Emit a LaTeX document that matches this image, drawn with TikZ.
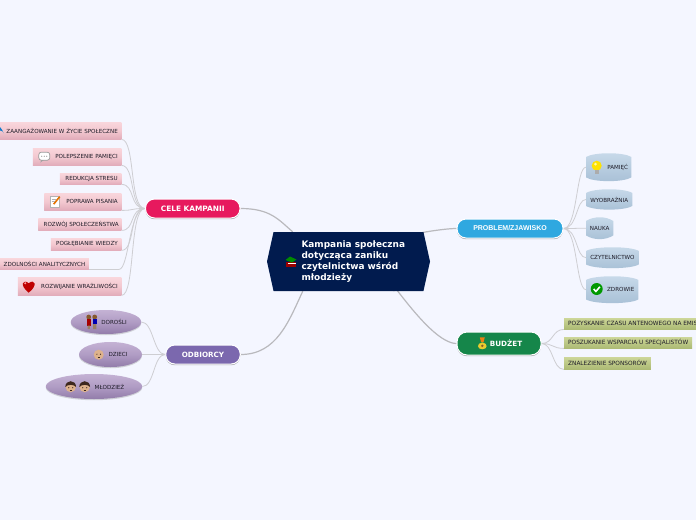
\documentclass[tikz,border=0pt]{standalone}
\usepackage{fontspec}
\usepackage{tikz}
\usetikzlibrary{shapes.geometric,shapes.symbols,shadows,backgrounds,calc}
\setmainfont{DejaVu Sans}
\newfontfamily\arialfont{Liberation Sans}
\definecolor{pagebg}{RGB}{244, 246, 255}
\definecolor{navymain}{RGB}{1, 27, 78}
\definecolor{celecolor}{RGB}{231, 25, 94}
\definecolor{odbiorcycolor}{RGB}{123, 104, 174}
\definecolor{problemcolor}{RGB}{47, 168, 224}
\definecolor{budzetcolor}{RGB}{21, 134, 74}
\definecolor{branchgray}{RGB}{206, 206, 210}
\definecolor{darktext}{RGB}{30, 28, 40}
\definecolor{pinktop}{RGB}{249, 214, 220}
\definecolor{pinkmid}{RGB}{243, 200, 208}
\definecolor{pinkbottom}{RGB}{226, 172, 186}
\definecolor{greentop}{RGB}{204, 214, 152}
\definecolor{greenbottom}{RGB}{172, 186, 116}
\definecolor{violettop}{RGB}{196, 178, 212}
\definecolor{violetmid}{RGB}{176, 156, 196}
\definecolor{violetbottom}{RGB}{146, 124, 170}
\definecolor{bluetop}{RGB}{200, 218, 234}
\definecolor{bluebottom}{RGB}{168, 192, 214}
\definecolor{skintone}{RGB}{222, 178, 140}
\definecolor{hairtone}{RGB}{62, 40, 30}
\tikzset{
	softshadow/.style={drop shadow={shadow xshift=0pt, shadow yshift=-1.2pt, opacity=0.22, fill=black!70}},
	mainshadow/.style={drop shadow={shadow xshift=0pt, shadow yshift=-1.2pt, opacity=0.45, fill=black!70}},
	mainnode/.style={draw=white, line width=1pt, rounded corners=9pt, text=white, inner sep=0pt, mainshadow},
	leaftext/.style={font=\fontsize{5.6}{6.5}\selectfont, text=darktext},
	celebox/.style={leaftext, anchor=north east, top color=pinktop, bottom color=pinkbottom, middle color=pinkmid, inner xsep=3.5pt, inner ysep=0pt, align=right, softshadow},
	greenbox/.style={leaftext, font=\fontsize{5.8}{6.5}\selectfont, anchor=north west, top color=greentop, bottom color=greenbottom, inner xsep=4pt, inner ysep=0pt, align=left, softshadow},
	oval/.style={leaftext, ellipse, top color=violettop, bottom color=violetbottom, middle color=violetmid, inner sep=0pt, softshadow},
	barrel/.style={leaftext, anchor=north west, inner xsep=3pt, inner ysep=0pt},
	barrelfill/.style={top color=bluetop, bottom color=bluebottom},
	trunk/.style={draw=branchgray!90!black, line width=1.2pt},
	branch/.style={draw=branchgray, line width=0.8pt},
	% ikony
	heart/.pic={\fill[red!75!black] (0,7) .. controls (-10,-1) and (-5.5,-7) .. (0,-2.5) .. controls (5.5,-7) and (10,-1) .. (0,7) -- cycle;
		\fill[red!40!white] (-3.5,-2.5) circle (1.1);},
	bubble/.pic={\fill[gray!70] (-3,3) -- (-4,6) -- (0,3) -- cycle;
		\draw[gray!80, fill=white, rounded corners=2.5pt, line width=0.7pt] (-5.5,-4.5) rectangle (5.5,3.5);
		\foreach \dx in {-2.5,0,2.5} \fill[gray!80] (\dx,-0.5) circle (0.6);},
	notepad/.pic={\draw[gray!60, fill=white, line width=0.5pt] (-5.5,-5.5) rectangle (3.5,5.5);
		\draw[orange!90!black, line width=1.6pt] (-2,2.5) -- (4,-5);
		\draw[gray!60, line width=0.4pt] (-4,-3) -- (0,-3) (-4,-1) -- (-1,-1);},
	drop/.pic={\fill[cyan!60!blue] (0,-4) .. controls (1,-1.5) and (4,0) .. (3.5,2) arc (0:-180:3.5 and 2.5) .. controls (-4,0) and (-1,-1.5) .. (0,-4) -- cycle;},
	bulb/.pic={\fill[yellow!85!orange] (0,-2) circle (5);
		\fill[yellow!35!white] (-1.2,-3.6) circle (1.5);
		\fill[gray!65] (-2,2.6) rectangle (2,6.5);},
	checkmark/.pic={\fill[green!60!black] (0,0) circle (6);
		\draw[white, line width=1.6pt] (-3,0) -- (-0.8,2.4) -- (3.2,-2.2);},
	moneybag/.pic={\fill[yellow!60!brown] (0,-1) .. controls (6,0) and (5.5,6) .. (0,6) .. controls (-5.5,6) and (-6,0) .. (0,-1) -- cycle;
		\fill[orange!70!brown] (-2.5,-6) -- (2.5,-6) -- (1.3,-1.5) -- (-1.3,-1.5) -- cycle;
		\fill[brown!70!black] (0,2.5) circle (1.3);},
	couple/.pic={\fill[brown!70!black] (-3,-5) circle (2.4) (3,-5) circle (2.4);
		\fill[red!65!black] (-5.2,-3) rectangle (-0.8,3.5);
		\fill[blue!70!black] (0.8,-3) rectangle (5.2,2);
		\fill[gray!60!brown] (-4.2,3.5) rectangle (-1.8,7) (1.4,2) rectangle (4.6,7);},
	babyface/.pic={\fill[skintone] (0,0) circle (5);
		\fill[hairtone] (-1.8,-0.5) circle (0.6) (1.8,-0.5) circle (0.6);
		\draw[hairtone, line width=0.4pt] (-1.2,2) -- (1.2,2);},
	teenface/.pic={\fill[skintone] (0,0.3) circle (5.2);
		\fill[hairtone] (-5.4,0.4) .. controls (-5.4,-7.5) and (5.4,-7.5) .. (5.4,0.4) .. controls (3.5,-2.6) and (-3.5,-2.6) .. (-5.4,0.4) -- cycle;
		\fill[hairtone] (-2,1) circle (0.65) (2,1) circle (0.65);
		\draw[hairtone, line width=0.4pt] (-1.2,3.3) -- (1.2,3.3);},
	booksicon/.pic={\fill[red!60!black] (-5,1) rectangle (5,5.5);
		\fill[white] (-3.5,2) rectangle (5,3.2);
		\fill[green!55!black] (-5.5,-1) -- (-1,-4.5) -- (5.5,-1.5) -- (1,1.5) -- cycle;},
}
\begin{document}
\begin{tikzpicture}[x=1pt,y=-1pt]
	\useasboundingbox (0,0) rectangle (696,520);
	% temat glowny
	\node[signal, signal to=west and east, signal pointer angle=155, fill=navymain, inner sep=0pt, minimum width=163pt, minimum height=59pt, text=white, font=\fontsize{8.95}{11.2}\selectfont\bfseries] (kampania) at (348.5,261.5)
		{\hspace*{11pt}\parbox{105pt}{\raggedright Kampania społeczna\\ dotycząca zaniku\\ czytelnictwa wśród\\ młodzieży}};
	% galezie glowne
	\node[mainnode, fill=celecolor, minimum width=94.5pt, minimum height=19pt, font=\fontsize{7.4}{8}\selectfont\bfseries] (cele) at (192.75,208.5) {CELE KAMPANII};
	\node[mainnode, fill=odbiorcycolor, minimum width=74.5pt, minimum height=19pt, font=\fontsize{7.2}{8}\selectfont\bfseries] (odbiorcy) at (203,354.5) {ODBIORCY};
	\node[mainnode, fill=problemcolor, minimum width=106pt, minimum height=19pt, font=\arialfont\fontsize{7}{8}\selectfont\bfseries] (problem) at (510,228.5) {PROBLEM/ZJAWISKO};
	\node[mainnode, fill=budzetcolor, minimum width=84pt, minimum height=23pt, rounded corners=10pt, font=\fontsize{7.2}{8}\selectfont\bfseries] (budzet) at (499,343.5) {\hspace*{14pt}BUDŻET};
	% cele kampanii
	\node[celebox, text width=116.5pt, minimum height=17pt] (zaangazowanie) at (121.5,122) {ZAANGAŻOWANIE W ŻYCIE SPOŁECZNE};
	\node[celebox, text width=81.5pt, minimum height=17pt] (polepszenie) at (121.5,148) {POLEPSZENIE PAMIĘCI};
	\node[celebox, text width=54.5pt, minimum height=11pt] (redukcja) at (121.5,173) {REDUKCJA STRESU};
	\node[celebox, text width=70pt, minimum height=17pt] (poprawa) at (121.5,193) {POPRAWA PISANIA};
	\node[celebox, text width=78pt, inner xsep=2.5pt, minimum height=12pt] (rozwoj) at (121.5,218) {ROZWÓJ SPOŁECZEŃSTWA};
	\node[celebox, text width=63.5pt, minimum height=12pt] (poglebianie) at (121.5,238) {POGŁĘBIANIE WIEDZY};
	\node[celebox, text width=95pt, minimum height=11pt] (zdolnosci) at (89,258) {ZDOLNOŚCI ANALITYCZNYCH};
	\node[celebox, text width=96.5pt, minimum height=18pt] (rozwijanie) at (121.5,277) {ROZWIJANIE WRAŻLIWOŚCI};
	% odbiorcy
	\node[oval, minimum width=70.5pt, minimum height=24pt] (dorosli) at (106,322) {\hspace*{16pt}DOROŚLI};
	\node[oval, minimum width=63pt, minimum height=25pt] (dzieci) at (110.5,354.5) {\hspace*{15pt}DZIECI};
	\node[oval, minimum width=96.5pt, minimum height=25pt] (mlodziez) at (94,386.5) {\hspace*{31pt}MŁODZIEŻ};
	% problem
	\node[barrel, minimum width=45pt, minimum height=28pt] (pamiec) at (586,153) {\hspace*{18pt}PAMIĘĆ};
	\node[barrel, minimum width=46pt, minimum height=20.5pt] (wyobraznia) at (586,189) {WYOBRAŹNIA};
	\node[barrel, minimum width=27pt, minimum height=22pt] (nauka) at (586,217) {NAUKA};
	\node[barrel, minimum width=52.5pt, minimum height=21pt] (czytelnictwo) at (586,247) {CZYTELNICTWO};
	\node[barrel, minimum width=52pt, minimum height=27pt] (zdrowie) at (586,276) {\hspace*{17pt}ZDROWIE};
	% budzet
	\node[greenbox, minimum height=11pt] (pozyskanie) at (564,318) {POZYSKANIE CZASU ANTENOWEGO NA EMISJĘ};
	\node[greenbox, minimum height=11pt] (poszukanie) at (564,337) {POSZUKANIE WSPARCIA U SPECJALISTÓW};
	\node[greenbox, minimum height=12pt] (znalezienie) at (564,357) {ZNALEZIENIE SPONSORÓW};
	% ikony
	\pic at (291,261) {booksicon};
	\pic at (0,131) {drop};
	\pic at (44.3,156.7) {bubble};
	\pic at (55.7,201.7) {notepad};
	\pic at (28.7,285.7) {heart};
	\pic at (91.7,322) {couple};
	\pic at (98.7,354.7) {babyface};
	\pic at (70.7,386.7) {teenface};
	\pic at (84.7,386.7) {teenface};
	\pic at (596.7,167.7) {bulb};
	\pic at (596.7,289) {checkmark};
	\pic at (482.3,343.3) {moneybag};
	\begin{scope}[on background layer]
		\fill[pagebg] (0,0) rectangle (696,520);
		% polaczenia z tematem
		\draw[trunk] (cele.east) .. controls +(30,0) and +(-14,-12) .. (kampania.152);
		\draw[trunk] (odbiorcy.east) .. controls +(36,0) and +(-14,30) .. (kampania.213);
		\draw[trunk] (problem.west) .. controls +(-14,0) and +(-14,2) .. (kampania.21);
		\draw[trunk] (budzet.west) .. controls +(-28,0) and +(-14,-30) .. (kampania.-33);
		% polaczenia z lisciami
		\foreach \leaf in {zaangazowanie,polepszenie,redukcja,poprawa,rozwoj,poglebianie,rozwijanie}
			\draw[branch] (cele.west) .. controls +(-16,0) and +(14,0) .. (\leaf.south east);
		\draw[branch] (cele.west) .. controls +(-16,0) and +(10,0) .. ($(zdolnosci.south east)+(30,0)$) -- (zdolnosci.south east);
		\foreach \leaf in {dorosli,dzieci,mlodziez}
			\draw[branch] (odbiorcy.west) .. controls +(-12,0) and +(12,0) .. (\leaf.east);
		\foreach \leaf in {pamiec,wyobraznia,nauka,czytelnictwo,zdrowie}
			\draw[branch] (problem.east) .. controls +(14,0) and +(-10,0) .. (\leaf.west);
		\foreach \leaf in {pozyskanie,poszukanie,znalezienie}
			\draw[branch] (budzet.east) .. controls +(12,0) and +(-12,0) .. (\leaf.south west);
		% tlo lisci
		\foreach \leaf in {pamiec,wyobraznia,nauka,czytelnictwo,zdrowie}
			\path[barrelfill] ([yshift=-4pt]\leaf.north west) .. controls +(8,-5) and +(-8,-5) .. ([yshift=-4pt]\leaf.north east) -- ([yshift=4pt]\leaf.south east) .. controls +(-8,5) and +(8,5) .. ([yshift=4pt]\leaf.south west) -- cycle;
	\end{scope}
\end{tikzpicture}
\end{document}
